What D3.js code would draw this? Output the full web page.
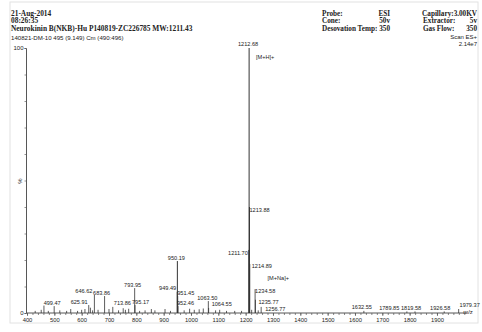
<!DOCTYPE html>
<html><head><meta charset="utf-8">
<script src="https://cdn.jsdelivr.net/npm/d3@7"></script>
<style>
html,body{margin:0;padding:0;background:#fff;}
svg{display:block;}
.serif{font-family:"Liberation Serif","DejaVu Serif",serif;font-weight:bold;white-space:pre;}
.sans{font-family:"Liberation Sans",Arial,sans-serif;}
</style></head>
<body>
<svg id="c" width="482" height="332"></svg>
<script>
// ---- data ----
const headerLeft = ["21-Aug-2014", "08:26:35", "Neurokinin B(NKB)-Hu  P140819-ZC226785  MW:1211.43"];
const sampleLine = "140821-DM-10 495 (9.149) Cm (490:496)";
const paramLabels1 = ["Probe:", "Cone:", "Desovation Temp:"];
const paramValues1 = ["ESI", "50v", "350"];
const paramLabels2 = ["Capillary:", "Extractor:", "Gas Flow:"];
const paramValues2 = ["3.00KV", "5v", "350"];
const scanInfo = ["Scan ES+", "2.14e7"];

// labelled peaks (m/z, relative intensity %)
const peakMz  = [499.47, 625.91, 646.62, 683.86, 713.86, 793.95, 795.17, 949.49, 950.19, 951.45, 952.46,
                 1063.50, 1064.55, 1211.70, 1212.68, 1213.88, 1214.89, 1234.58, 1235.77, 1256.77,
                 1632.55, 1789.85, 1819.58, 1926.58, 1979.37];
const peakInt = [2.6, 3.0, 6.8, 6.4, 2.3, 9.4, 3.0, 8.0, 19.6, 6.4, 2.6,
                 4.5, 1.9, 23.8, 100, 40, 18.5, 9.0, 5.0, 2.3,
                 0.8, 0.6, 0.6, 0.6, 1.5];
// minor unlabelled peaks
const noiseMz  = [430, 452, 462, 478, 520, 545, 560, 585, 600, 612, 632, 640, 660, 700, 735, 752, 760, 772,
                  812, 832, 855, 868, 905, 925, 975, 995, 1012, 1030, 1045, 1090, 1105, 1130, 1160, 1185, 1222, 1246];
const noiseInt = [0.8, 1.2, 2.8, 0.8, 1.0, 0.8, 1.5, 0.8, 1.2, 1.5, 2.0, 1.0, 1.2, 1.5, 1.0, 1.8, 1.2, 1.6,
                  0.8, 1.0, 1.5, 1.0, 1.5, 0.8, 1.0, 1.6, 1.2, 1.4, 1.7, 1.0, 1.2, 0.8, 0.8, 0.8, 1.2, 1.0];
const annText = ["[M+H]+", "[M+Na]+"];
const annMz   = [1238, 1280];
const annInt  = [95.8, 12.4];
const xTicks = [400, 500, 600, 700, 800, 900, 1000, 1100, 1200, 1300, 1400, 1500, 1600, 1700, 1800, 1900];
const yTickLabels = [0, 100];

// ---- label layout (anchor, dx from peak, dy from peak top) ----
const labelAnchor = ["middle","end","end","middle","start","middle","start","end","middle","start","start",
                     "middle","start","end","middle","start","start","start","start","start",
                     "middle","end","start","middle","middle"];
const labelDx = [-2,-1,-2,-3,1,-2,-3,-1,-1,-0.5,-1, -1,3,-1,-1,0,2,0,3,4, -2,-7.5,-14,-4,11];
const labelDy = [-1.5,-1.5,-1.5,-1.5,-1.5,-1.5,-1.5,-1.5,-1.5,-1.5,-1.5, -1.5,-1.5,5,-2,4.5,4,4,4,4, -1.5,-1.5,-1.5,-1.5,-1.7];

const svg = d3.select("#c");
const ink = "#222";

// faint frame of the scanned page
svg.append("rect").attr("x",10).attr("y",2).attr("width",468).attr("height",321)
  .attr("fill","none").attr("stroke","#e2e2e2").attr("stroke-width",1);

const x = d3.scaleLinear().domain([400, 2000]).range([27, 464.3]);
const y = d3.scaleLinear().domain([0, 100]).range([313, 48]);

// header
const hl = svg.append("g").attr("class","serif").attr("fill",ink).attr("font-size",7.4);
headerLeft.forEach((t,i)=>hl.append("text").attr("x",11).attr("y",15.5+i*7.7).text(t));
svg.append("text").attr("class","sans").attr("fill",ink).attr("font-size",6.1)
  .attr("x",11).attr("y",40).text(sampleLine);

const hr = svg.append("g").attr("class","serif").attr("fill",ink).attr("font-size",7.2);
paramLabels1.forEach((t,i)=>{
  hr.append("text").attr("x",322).attr("y",15.5+i*7.7).text(t);
  hr.append("text").attr("x",390).attr("y",15.5+i*7.7).attr("text-anchor","end").text(paramValues1[i]);
});
paramLabels2.forEach((t,i)=>{
  if(i===0){
    hr.append("text").attr("x",477).attr("y",15.5).attr("text-anchor","end").text(t+paramValues2[i]);
  } else {
    hr.append("text").attr("x",423).attr("y",15.5+i*7.7).text(t);
    hr.append("text").attr("x",477).attr("y",15.5+i*7.7).attr("text-anchor","end").text(paramValues2[i]);
  }
});
scanInfo.forEach((t,i)=>svg.append("text").attr("class","sans").attr("fill",ink).attr("font-size",6)
  .attr("x",477).attr("y",39+i*6.5).attr("text-anchor","end").text(t));

// axes
const xAxisG = svg.append("g").attr("transform","translate(0,313)");
xAxisG.call(d3.axisBottom(x).tickValues(d3.range(400,2001,20)).tickSize(2).tickFormat(""));
xAxisG.call(g=>g.select(".domain").attr("d",`M${x(400)},0H467`));
const xMaj = svg.append("g").attr("transform","translate(0,313)")
  .call(d3.axisBottom(x).tickValues(xTicks).tickSize(3).tickPadding(2).tickFormat(d3.format("d")));
xMaj.select(".domain").remove();
[xAxisG, xMaj].forEach(g=>{
  g.selectAll("line").attr("stroke","#555").attr("stroke-width",0.7);
  g.selectAll("path").attr("stroke","#444").attr("stroke-width",0.9);
  g.selectAll("text").attr("class","sans").attr("font-size",5.8).attr("fill",ink);
});

const yAxisG = svg.append("g").attr("transform","translate(26,0)")
  .call(d3.axisLeft(y).tickValues(d3.range(0,101,10)).tickSize(1.5).tickFormat(""));
yAxisG.selectAll("line").attr("stroke","#666").attr("stroke-width",0.7);
yAxisG.select(".domain").attr("stroke","#444").attr("stroke-width",0.9);
const yLab = svg.append("g").attr("transform","translate(26,0)")
  .call(d3.axisLeft(y).tickValues(yTickLabels).tickSize(0).tickPadding(2.5).tickFormat(d3.format("d")));
yLab.select(".domain").remove();
yLab.selectAll("text").attr("class","sans").attr("font-size",6).attr("fill",ink);

svg.append("text").attr("class","sans").attr("font-size",6).attr("fill",ink)
  .attr("transform","translate(22,181) rotate(-90)").attr("text-anchor","middle").text("%");
svg.append("text").attr("class","sans").attr("font-size",6).attr("fill",ink)
  .attr("x",468).attr("y",314).attr("text-anchor","middle").text("m/z");

// sticks
const sticks = svg.append("g").attr("stroke","#333").attr("stroke-width",0.8);
noiseMz.forEach((m,i)=>sticks.append("line").attr("x1",x(m)).attr("x2",x(m)).attr("y1",y(0)).attr("y2",y(noiseInt[i])));
peakMz.forEach((m,i)=>sticks.append("line").attr("x1",x(m)).attr("x2",x(m)).attr("y1",y(0)).attr("y2",y(peakInt[i]))
  .attr("stroke-width", peakInt[i]>15?1:0.8));

// labels
const lab = svg.append("g").attr("class","sans").attr("font-size",5.6).attr("fill",ink);
peakMz.forEach((m,i)=>lab.append("text")
  .attr("x",x(m)+labelDx[i]).attr("y",y(peakInt[i])+labelDy[i])
  .attr("text-anchor",labelAnchor[i]).text(m.toFixed(2)));
annText.forEach((t,i)=>lab.append("text").attr("x",x(annMz[i])).attr("y",y(annInt[i])).text(t));
</script>
</body></html>
